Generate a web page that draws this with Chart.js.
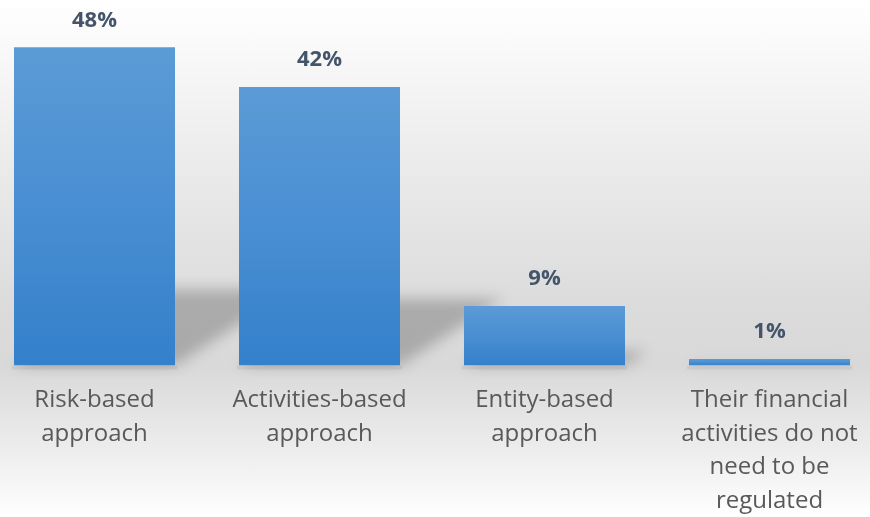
<!DOCTYPE html>
<html>
<head>
<meta charset="utf-8">
<script src="https://cdn.jsdelivr.net/npm/chart.js@4/dist/chart.umd.min.js"></script>
<style>
  html, body { margin: 0; padding: 0; }
  body { width: 870px; height: 517px; overflow: hidden; position: relative;
         background: linear-gradient(to bottom, #ffffff 0%, #ececec 30%, #dbdbdb 60%, #d9d9d9 71%, #eeeeee 88%, #ffffff 100%); }
  #wrap { position: absolute; left: -18px; top: 0; width: 900px; height: 536px; }
</style>
</head>
<body>
<div id="wrap"><canvas id="c"></canvas></div>
<script>
const categories = [
  ["Risk-based", "approach"],
  ["Activities-based", "approach"],
  ["Entity-based", "approach"],
  ["Their financial", "activities do not", "need to be", "regulated"]
];
const values = [48, 42, 9, 1];
const valueLabels = ["48%", "42%", "9%", "1%"];

const shadowPlugin = {
  id: 'perspShadow',
  beforeDatasetsDraw(chart) {
    const ctx = chart.ctx;
    const meta = chart.getDatasetMeta(0);
    ctx.save();
    ctx.filter = 'blur(7px)';
    ctx.fillStyle = 'rgba(0,0,0,0.22)';
    meta.data.forEach(el => {
      const p = el.getProps(['x', 'y', 'base', 'width'], true);
      const L = p.x - p.width / 2, R = p.x + p.width / 2;
      const h = p.base - p.y;
      const sh = 0.24 * h, dx = 0.37 * h;
      ctx.beginPath();
      ctx.moveTo(L, p.base);
      ctx.lineTo(L + dx, p.base - sh);
      ctx.lineTo(R + dx, p.base - sh);
      ctx.lineTo(R, p.base);
      ctx.closePath();
      ctx.fill();
    });
    ctx.filter = 'none';
    ctx.fillStyle = 'rgba(0,0,0,0.06)';
    meta.data.forEach(el => {
      const p = el.getProps(['x', 'base', 'width'], true);
      ctx.fillRect(p.x - p.width / 2 - 2, p.base, p.width + 4, 4);
    });
    ctx.restore();
  }
};

const labelPlugin = {
  id: 'valueLabels',
  afterDatasetsDraw(chart) {
    const ctx = chart.ctx;
    const meta = chart.getDatasetMeta(0);
    ctx.save();
    ctx.font = 'bold 22px "Open Sans"';
    ctx.fillStyle = '#44546a';
    ctx.textAlign = 'center';
    ctx.textBaseline = 'middle';
    meta.data.forEach((el, i) => {
      const p = el.getProps(['x', 'y'], true);
      ctx.fillText(valueLabels[i], p.x, p.y - 27);
    });
    ctx.restore();
  }
};

new Chart(document.getElementById('c'), {
  type: 'bar',
  data: {
    labels: categories,
    datasets: [{
      data: values,
      backgroundColor(c) {
        const chart = c.chart;
        if (!chart.chartArea || !chart.scales.y) return '#4a8fd3';
        const y = chart.scales.y;
        const top = y.getPixelForValue(c.raw);
        const bot = y.getPixelForValue(0);
        if (!isFinite(top) || bot - top < 1) return '#4a8fd3';
        const g = chart.ctx.createLinearGradient(0, top, 0, bot);
        g.addColorStop(0, '#5b9bd6');
        g.addColorStop(0.45, '#4b90d3');
        g.addColorStop(1, '#3480cb');
        return g;
      },
      borderWidth: 0,
      barPercentage: 0.7156,
      categoryPercentage: 1
    }]
  },
  options: {
    responsive: true,
    maintainAspectRatio: false,
    animation: false,
    layout: { padding: { top: 34, bottom: 0, left: 0, right: 0 } },
    plugins: { legend: { display: false }, tooltip: { enabled: false } },
    scales: {
      x: {
        grid: { display: false, drawTicks: false },
        border: { display: false },
        ticks: {
          color: '#595959',
          padding: 18,
          maxRotation: 0,
          autoSkip: false,
          font: { family: '"Open Sans"', size: 24, lineHeight: 1.4 }
        }
      },
      y: { display: false, min: 0, max: 50 }
    }
  },
  plugins: [shadowPlugin, labelPlugin]
});
</script>
</body>
</html>
